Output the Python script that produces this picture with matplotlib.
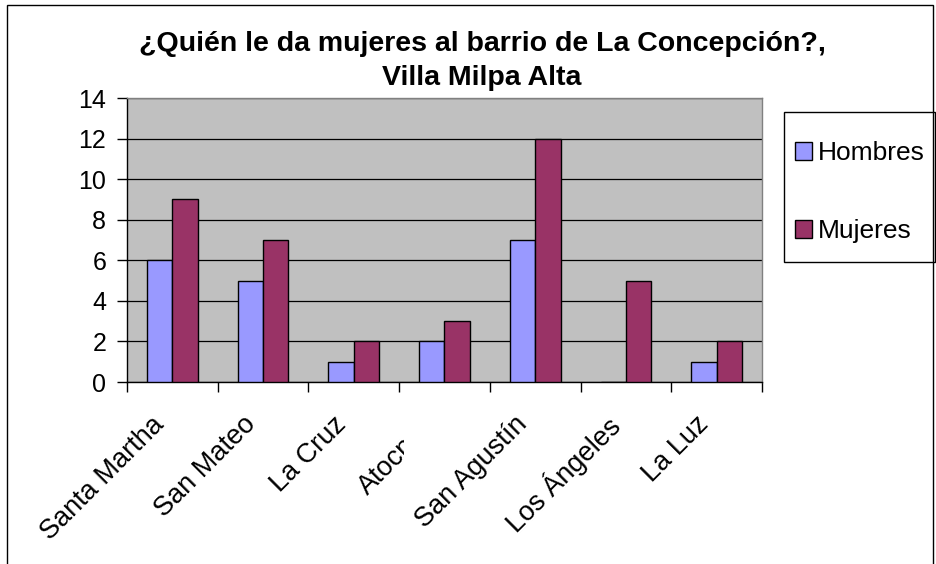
import matplotlib
matplotlib.use("Agg")
import matplotlib.pyplot as plt
import numpy as np
from matplotlib.patches import Rectangle, Patch
from matplotlib.transforms import Bbox

categories = ["Santa Martha", "San Mateo", "La Cruz", "Atocpan", "San Agustín", "Los Ángeles", "La Luz"]
hombres = [6, 5, 1, 2, 7, 0, 1]
mujeres = [9, 7, 2, 3, 12, 5, 2]
series_names = ["Hombres", "Mujeres"]
yticks = [0, 2, 4, 6, 8, 10, 12, 14]
title = "¿Quién le da mujeres al barrio de La Concepción?,\nVilla Milpa Alta"

plt.rcParams['font.family'] = ['Liberation Sans', 'DejaVu Sans']

W, H = 936, 564
fig = plt.figure(figsize=(W / 100, H / 100), dpi=100)
fig.patch.set_facecolor('white')

# outer chart border
fig.add_artist(Rectangle((7 / W, -0.05), (933 - 7) / W, (H - 5) / H + 0.05,
                         transform=fig.transFigure, fill=False, edgecolor='black', linewidth=1))

left, right, top, bottom = 127, 762, 98, 382
ax = fig.add_axes([left / W, (H - bottom) / H, (right - left) / W, (bottom - top) / H])
ax.set_facecolor('#C0C0C0')

x = np.arange(len(categories))
bw = 0.28
ax.bar(x - bw / 2, hombres, bw, color='#9999FF', edgecolor='black', linewidth=1, zorder=3)
ax.bar(x + bw / 2, mujeres, bw, color='#993366', edgecolor='black', linewidth=1, zorder=3)

ax.set_xlim(-0.5, len(categories) - 0.5)
ax.set_ylim(0, 14)
ax.set_yticks(yticks)
ax.set_yticklabels([str(v) for v in yticks], fontsize=18)
ax.yaxis.grid(True, color='black', linewidth=0.9, zorder=1)
ax.set_axisbelow(True)

ax.set_xticks(np.arange(len(categories) + 1) - 0.5, minor=False)
ax.set_xticklabels([])
ax.tick_params(axis='x', direction='out', length=7, width=1, color='black')
ax.tick_params(axis='y', direction='out', length=7, width=1, color='black', pad=8)

for s in ['left', 'bottom']:
    ax.spines[s].set_color('black')
    ax.spines[s].set_linewidth(1)
for s in ['top', 'right']:
    ax.spines[s].set_color('#808080')
    ax.spines[s].set_linewidth(1)

# category labels
for i, lab in enumerate(categories):
    t = ax.text(i - 0.23, -1.45, lab, transform=ax.transData, rotation=45,
                rotation_mode='anchor', ha='right', va='top', fontsize=19.5, clip_on=False)
    if lab == "Atocpan":
        t.set_clip_on(True)
        t.set_clip_box(Bbox.from_extents(0, 0, 404, H))

fig.text(482 / W, 1 - 31 / H, title, ha='center', va='top', fontsize=20.5,
         fontweight='bold', linespacing=1.4)

# legend box
fig.add_artist(Rectangle((784 / W, (H - 262) / H), (935 - 784) / W, (262 - 112) / H,
                         transform=fig.transFigure, fill=False, edgecolor='black', linewidth=1))
handles = [Patch(facecolor='#9999FF', edgecolor='black'),
           Patch(facecolor='#993366', edgecolor='black')]
leg = fig.legend(handles, series_names, loc='upper left',
                 bbox_to_anchor=(795 / W, 1 - 141 / H), frameon=False, fontsize=19,
                 handlelength=0.65, handleheight=0.65, handletextpad=0.2,
                 labelspacing=2.05, borderpad=0, borderaxespad=0)

fig.savefig("out.png", dpi=100)
